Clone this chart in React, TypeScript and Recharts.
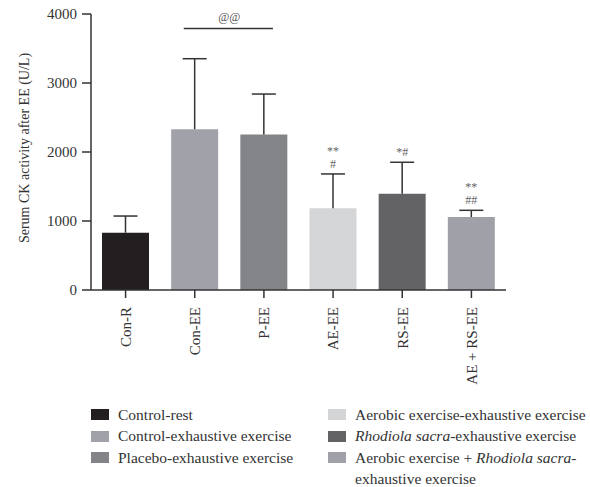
import React from 'react';
import {
  BarChart,
  Bar,
  Cell,
  XAxis,
  YAxis,
  Legend,
  ReferenceLine,
} from 'recharts';

// group names on the x axis
const categories = ['Con-R', 'Con-EE', 'P-EE', 'AE-EE', 'RS-EE', 'AE + RS-EE'];
// mean serum CK (U/L) and upper SD
const means = [830, 2330, 2255, 1185, 1395, 1058];
const sds = [242, 1022, 585, 497, 456, 97];
const barColors = ['#231f20', '#a1a1a9', '#838487', '#d4d5d7', '#636365', '#a0a0a8'];
// significance marks above each error bar (top line first)
const marks = [[], [], [], ['**', '#'], ['*#'], ['**', '##']];
const yTicks = [0, 1000, 2000, 3000, 4000];

const legendLeft = ['Control-rest', 'Control-exhaustive exercise', 'Placebo-exhaustive exercise'];

const data = categories.map((name, i) => ({
  name,
  mean: means[i],
  sd: sds[i],
  marks: marks[i],
}));

const FONT = '"Liberation Serif", "DejaVu Serif", serif';
const INK = '#333';

// upper-only error bar drawn on the stacked sd segment
function ErrorShape(props: any) {
  const { x, y, width, height, payload } = props;
  const cx = x + width / 2;
  const lines: string[] = payload.marks || [];
  return (
    <g>
      <line x1={cx} y1={y + height} x2={cx} y2={y} stroke={INK} strokeWidth={1.5} />
      <line x1={cx - 12} y1={y} x2={cx + 12} y2={y} stroke={INK} strokeWidth={1.5} />
      {lines.map((t, k) => (
        <text
          key={k}
          x={cx}
          y={y - 6 - (lines.length - 1 - k) * 13}
          textAnchor="middle"
          fontFamily={FONT}
          fontSize={12}
          style={{ fill: '#666' }}
        >
          {t}
        </text>
      ))}
    </g>
  );
}

function BracketShape(props: any) {
  const { x1, y1, x2 } = props;
  return (
    <g>
      <line x1={x1 - 11} y1={y1} x2={x2 + 9} y2={y1} stroke={INK} strokeWidth={1.5} />
      <text
        x={(x1 + x2) / 2}
        y={y1 - 7}
        textAnchor="middle"
        fontFamily={FONT}
        fontSize={12}
        style={{ fill: '#555' }}
      >
        @@
      </text>
    </g>
  );
}

function XTick(props: any) {
  const { x, y, payload } = props;
  const ty = y + 7;
  return (
    <text
      x={x}
      y={ty}
      dy="0.35em"
      transform={`rotate(-90, ${x}, ${ty})`}
      textAnchor="end"
      fontFamily={FONT}
      fontSize={15}
      fill={INK}
    >
      {payload.value}
    </text>
  );
}

function YLabel(props: any) {
  const { viewBox } = props;
  const cy = viewBox.y + viewBox.height / 2 - 4;
  return (
    <text
      x={29}
      y={cy}
      transform={`rotate(-90, 29, ${cy})`}
      textAnchor="middle"
      fontFamily={FONT}
      fontSize={14}
      fill={INK}
    >
      Serum CK activity after EE (U/L)
    </text>
  );
}

function Swatch({ color }: { color: string }) {
  return <span style={{ display: 'inline-block', width: 18, height: 11, background: color, marginRight: 9 }} />;
}

function LegendBox() {
  const row: React.CSSProperties = { display: 'flex', alignItems: 'center', height: 21.5, whiteSpace: 'nowrap' };
  return (
    <div style={{ position: 'relative', width: 590, height: 82, fontFamily: FONT, fontSize: 15.5, color: INK }}>
      <div style={{ position: 'absolute', left: 91, top: 0 }}>
        {legendLeft.map((t, i) => (
          <div key={t} style={row}>
            <Swatch color={barColors[i]} />
            {t}
          </div>
        ))}
      </div>
      <div style={{ position: 'absolute', left: 328, top: 0 }}>
        <div style={row}>
          <Swatch color={barColors[3]} />
          Aerobic exercise-exhaustive exercise
        </div>
        <div style={row}>
          <Swatch color={barColors[4]} />
          <i>Rhodiola sacra</i>-exhaustive exercise
        </div>
        <div style={row}>
          <Swatch color={barColors[5]} />
          Aerobic exercise +&nbsp;<i>Rhodiola sacra</i>-
        </div>
        <div style={{ ...row, paddingLeft: 27 }}>exhaustive exercise</div>
      </div>
    </div>
  );
}

export default function App() {
  return (
    <div style={{ position: 'absolute', left: 0, top: 0, width: 590, height: 487, background: '#fff' }}>
      <BarChart
        width={590}
        height={487}
        data={data}
        margin={{ top: 14, right: 84, bottom: 97, left: 0 }}
      >
        <XAxis
          dataKey="name"
          tick={<XTick />}
          tickLine={{ stroke: INK, strokeWidth: 1.5 }}
          axisLine={{ stroke: INK, strokeWidth: 1.5 }}
          tickSize={8}
          interval={0}
          height={100}
        />
        <YAxis
          domain={[0, 4000]}
          ticks={yTicks}
          width={91}
          tickSize={9}
          tickMargin={5}
          tick={{ fontFamily: FONT, fontSize: 15, fill: INK }}
          tickLine={{ stroke: INK, strokeWidth: 1.5 }}
          axisLine={{ stroke: INK, strokeWidth: 1.5 }}
          label={<YLabel />}
        />
        <Bar dataKey="mean" stackId="s" barSize={47} isAnimationActive={false}>
          {data.map((d, i) => (
            <Cell key={d.name} fill={barColors[i]} />
          ))}
        </Bar>
        <Bar dataKey="sd" stackId="s" barSize={47} isAnimationActive={false} shape={<ErrorShape />} />
        <ReferenceLine
          segment={[
            { x: 'Con-EE', y: 3790 },
            { x: 'P-EE', y: 3790 },
          ]}
          shape={<BracketShape />}
        />
        <Legend
          layout="vertical"
          align="center"
          verticalAlign="middle"
          wrapperStyle={{ left: 0, top: 404, width: 590 }}
          content={() => <LegendBox />}
        />
      </BarChart>
    </div>
  );
}
